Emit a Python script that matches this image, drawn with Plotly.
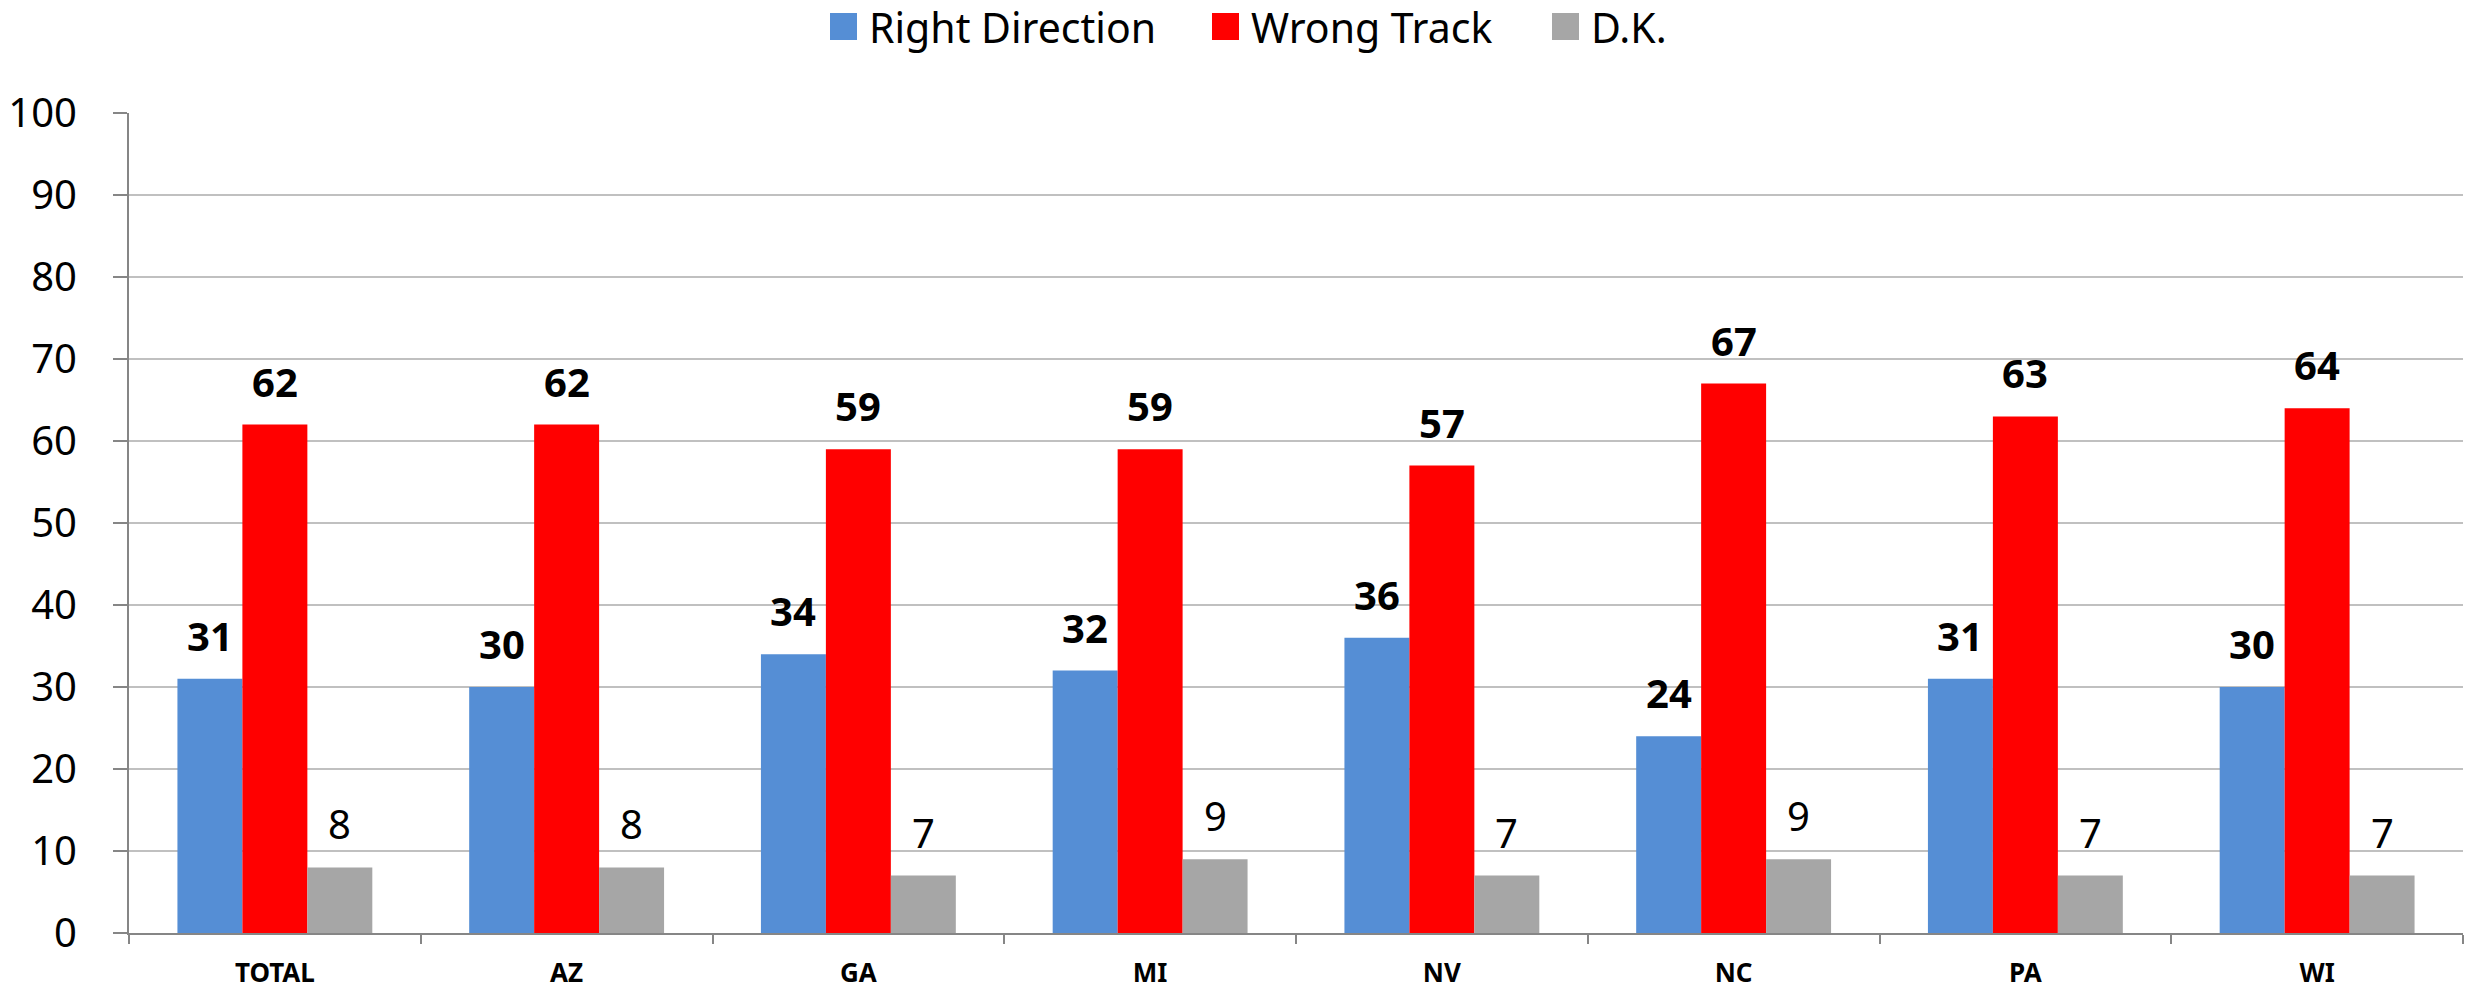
import plotly.graph_objects as go

categories = ["TOTAL", "AZ", "GA", "MI", "NV", "NC", "PA", "WI"]
right_direction = [31, 30, 34, 32, 36, 24, 31, 30]
wrong_track = [62, 62, 59, 59, 57, 67, 63, 64]
dont_know = [8, 8, 7, 9, 7, 9, 7, 7]
y_ticks = [0, 10, 20, 30, 40, 50, 60, 70, 80, 90, 100]

series = [
    ("Right Direction", right_direction, "#558ED5", True),
    ("Wrong Track", wrong_track, "#FF0000", True),
    ("D.K.", dont_know, "#A6A6A6", False),
]

FONT = "Noto Sans"
W, H = 2468, 993
ml, mr, mt, mb = 129, 5, 113, 60
pw, ph = W - ml - mr, H - mt - mb
bargap = 0.332
cat_w = pw / len(categories)
bar_w = cat_w * (1 - bargap) / 3

fig = go.Figure()
for name, vals, color, bold in series:
    fig.add_trace(go.Bar(
        name=name, x=categories, y=vals,
        marker=dict(color=color, line=dict(width=0)),
        showlegend=False,
    ))

# data labels
annotations = []
for i, (name, vals, color, bold) in enumerate(series):
    for c, v in zip(categories, vals):
        annotations.append(dict(
            x=c, y=v, xref="x", yref="y",
            text=f"<b>{v}</b>" if bold else str(v),
            showarrow=False, yanchor="bottom", xanchor="center",
            xshift=(i - 1) * bar_w, yshift=14,
            font=dict(family=FONT, size=40, color="#000000"),
        ))

# legend (drawn as squares + text at the top of the figure)
def px_x(x):
    return (x - ml) / pw

def px_y(y):
    return 1 + (mt - y) / ph

legend_square_left = [830, 1212, 1552]
square = 27
legend_top = 13
shapes = []
for (name, vals, color, bold), sx in zip(series, legend_square_left):
    shapes.append(dict(
        type="rect", xref="paper", yref="paper",
        x0=px_x(sx), x1=px_x(sx + square),
        y0=px_y(legend_top + square), y1=px_y(legend_top),
        fillcolor=color, line=dict(width=0), layer="above",
    ))
    annotations.append(dict(
        x=px_x(sx + square + 10), y=px_y(legend_top + square / 2),
        xref="paper", yref="paper", text=name, showarrow=False,
        xanchor="left", yanchor="middle",
        font=dict(family=FONT, size=41, color="#000000"),
    ))

fig.update_layout(
    width=W, height=H,
    margin=dict(l=ml, r=mr, t=mt, b=mb, pad=0),
    paper_bgcolor="white", plot_bgcolor="white",
    barmode="group", bargap=bargap, bargroupgap=0,
    font=dict(family=FONT, color="#000000"),
    showlegend=False,
    annotations=annotations,
    shapes=shapes,
    xaxis=dict(
        type="category", showgrid=False, automargin=False,
        showline=True, linecolor="#868686", linewidth=2,
        ticks="outside", tickson="boundaries", ticklen=9,
        tickcolor="#868686", tickwidth=2,
        tickfont=dict(family=FONT, size=26, color="#000000", weight="bold"),
        ticklabelstandoff=16,
    ),
    yaxis=dict(
        range=[0, 100], tickvals=y_ticks, automargin=False,
        showgrid=True, gridcolor="#C0C0C0", gridwidth=2,
        showline=True, linecolor="#868686", linewidth=2,
        ticks="outside", ticklen=14, tickcolor="#868686", tickwidth=2,
        tickfont=dict(family=FONT, size=40, color="#000000"),
        ticklabelstandoff=28, zeroline=False,
    ),
)

fig.write_html(
    "out.html",
    config={"displayModeBar": False},
    post_script="document.body.style.margin='0';document.body.style.overflow='hidden';",
)
